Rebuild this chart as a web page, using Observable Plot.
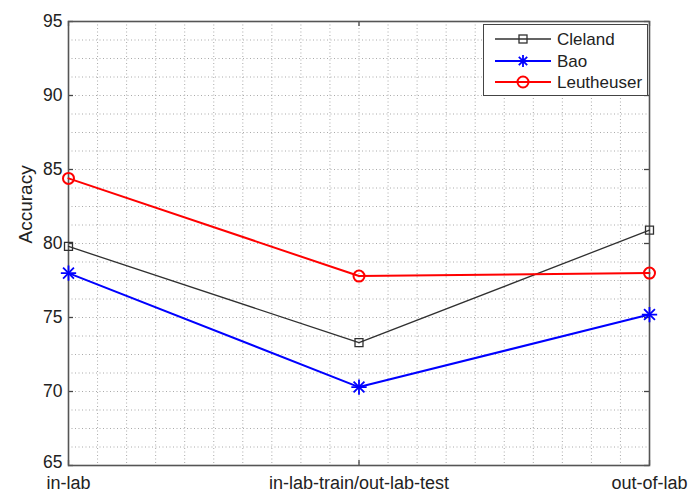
<!DOCTYPE html>
<html>
<head>
<meta charset="utf-8">
<script src="https://cdn.jsdelivr.net/npm/d3@7"></script>
<script src="https://cdn.jsdelivr.net/npm/@observablehq/plot@0.6"></script>
<style>
  html, body { margin: 0; padding: 0; background: #fff; }
  #wrap { position: relative; width: 691px; height: 492px; font-family: Arial, "Liberation Sans", sans-serif; }
  #legend { position: absolute; left: 483px; top: 24px; width: 165px; height: 72px; background: #fff;
            border: 1.5px solid #444; box-sizing: border-box; }
</style>
</head>
<body>
<div id="wrap"></div>
<script>
const categories = ["in-lab", "in-lab-train/out-lab-test", "out-of-lab"];
const seriesNames = ["Cleland", "Bao", "Leutheuser"];
const cleland = [79.8, 73.3, 80.9];
const bao = [78.0, 70.3, 75.2];
const leutheuser = [84.4, 77.8, 78.0];
const yTicks = [65, 70, 75, 80, 85, 90, 95];
const colors = {Cleland: "#303030", Bao: "#0000ff", Leutheuser: "#ff0000"};

const rows = [];
[cleland, bao, leutheuser].forEach((vals, s) => {
  vals.forEach((v, i) => rows.push({series: seriesNames[s], x: i + 1, y: v}));
});
const bySeries = name => rows.filter(d => d.series === name);

const xGrid = d3.range(1, 3.0001, 0.1);
const yGrid = d3.range(65, 95.0001, 1.25);
const tickLen = 0.0172; // ~5px inward in x units
const tickLenY = 0.34;  // ~5px inward in y units
const font = "Arial, 'Liberation Sans', sans-serif";

const plot = Plot.plot({
  width: 691,
  height: 492,
  marginLeft: 68,
  marginRight: 42,
  marginTop: 21,
  marginBottom: 27,
  style: {fontFamily: font, fontSize: "18px", background: "#fff", overflow: "visible"},
  x: {domain: [1, 3]},
  y: {domain: [65, 95]},
  marks: [
    Plot.ruleX(xGrid, {x: d => d, stroke: "#aaa", strokeWidth: 1, strokeDasharray: "1,2.5"}),
    Plot.ruleY(yGrid, {y: d => d, stroke: "#aaa", strokeWidth: 1, strokeDasharray: "1,2.5"}),
    // inward ticks
    Plot.ruleY(yTicks, {y: d => d, x1: 1, x2: 1 + tickLen, stroke: "#444", strokeWidth: 1.3}),
    Plot.ruleY(yTicks, {y: d => d, x1: 3 - tickLen, x2: 3, stroke: "#444", strokeWidth: 1.3}),
    Plot.ruleX([1, 2, 3], {x: d => d, y1: 65, y2: 65 + tickLenY, stroke: "#444", strokeWidth: 1.3}),
    Plot.ruleX([1, 2, 3], {x: d => d, y1: 95 - tickLenY, y2: 95, stroke: "#444", strokeWidth: 1.3}),
    Plot.frame({stroke: "#555", strokeWidth: 1.6}),
    Plot.axisY({ticks: yTicks.slice(1), tickSize: 0, tickPadding: 6, fontSize: 17.5, label: null, color: "#222"}),
    Plot.axisY({ticks: yTicks.slice(0, 1), tickSize: 0, tickPadding: 6, fontSize: 17.5, label: null, color: "#222", dy: -3}),
    Plot.axisX({ticks: [1, 2, 3], tickFormat: d => categories[d - 1], tickSize: 0, tickPadding: 10.5, fontSize: 18, label: null, color: "#222"}),
    Plot.text(["Accuracy"], {frameAnchor: "left", dx: -43, rotate: -90, fontSize: 19, fill: "#222"}),
    // series lines
    Plot.line(bySeries("Cleland"), {x: "x", y: "y", stroke: colors.Cleland, strokeWidth: 1.3}),
    Plot.line(bySeries("Bao"), {x: "x", y: "y", stroke: colors.Bao, strokeWidth: 2}),
    Plot.line(bySeries("Leutheuser"), {x: "x", y: "y", stroke: colors.Leutheuser, strokeWidth: 2}),
    // markers
    Plot.dot(bySeries("Cleland"), {x: "x", y: "y", symbol: "square", r: 4.5, stroke: colors.Cleland, fill: "none", strokeWidth: 1.3}),
    Plot.dot(bySeries("Bao"), {x: "x", y: "y", symbol: "plus", r: 5, stroke: colors.Bao, strokeWidth: 1.8}),
    Plot.dot(bySeries("Bao"), {x: "x", y: "y", symbol: "times", r: 5, stroke: colors.Bao, strokeWidth: 1.8}),
    Plot.dot(bySeries("Leutheuser"), {x: "x", y: "y", symbol: "circle", r: 5.5, stroke: colors.Leutheuser, fill: "none", strokeWidth: 2})
  ]
});

const wrap = document.getElementById("wrap");
wrap.appendChild(plot);

// Legend
const legend = document.createElement("div");
legend.id = "legend";
const ns = "http://www.w3.org/2000/svg";
const lsvg = document.createElementNS(ns, "svg");
lsvg.setAttribute("width", 162);
lsvg.setAttribute("height", 69);
lsvg.style.position = "absolute";
lsvg.style.left = "0";
lsvg.style.top = "0";
const rowY = [14, 36, 57];
const markerSvg = {
  Cleland: (cx, cy, c) => `<rect x="${cx-4}" y="${cy-4}" width="8" height="8" fill="none" stroke="${c}" stroke-width="1.3"/>`,
  Bao: (cx, cy, c) => `<path d="M${cx-6},${cy}H${cx+6}M${cx},${cy-6}V${cy+6}M${cx-4.2},${cy-4.2}L${cx+4.2},${cy+4.2}M${cx-4.2},${cy+4.2}L${cx+4.2},${cy-4.2}" stroke="${c}" stroke-width="1.8"/>`,
  Leutheuser: (cx, cy, c) => `<circle cx="${cx}" cy="${cy}" r="5.5" fill="none" stroke="${c}" stroke-width="2"/>`
};
let inner = "";
seriesNames.forEach((name, i) => {
  const y = rowY[i];
  const c = colors[name];
  const sw = name === "Cleland" ? 1.3 : 2;
  inner += `<line x1="11" x2="67" y1="${y}" y2="${y}" stroke="${c}" stroke-width="${sw}"/>`;
  inner += markerSvg[name](39, y, c);
  inner += `<text x="73" y="${y}" dy="0.35em" font-size="17" fill="#222" font-family="${font.replace(/'/g, "&apos;")}">${name}</text>`;
});
lsvg.innerHTML = inner;
legend.appendChild(lsvg);
wrap.appendChild(legend);
</script>
</body>
</html>
